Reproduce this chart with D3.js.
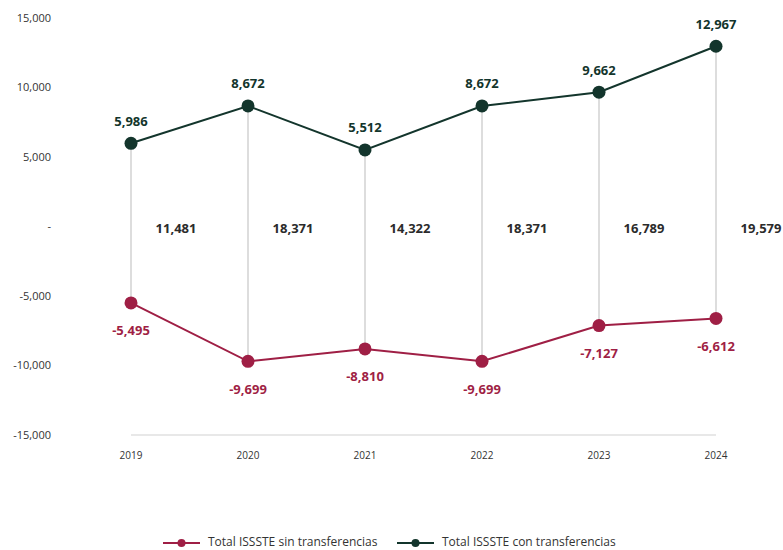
<!DOCTYPE html>
<html>
<head>
<meta charset="utf-8">
<script src="https://cdn.jsdelivr.net/npm/d3@7"></script>
<style>
  body { margin: 0; background: #fff; }
  text { font-family: "Open Sans", "Noto Sans", sans-serif; }
</style>
</head>
<body>
<div id="chart"></div>
<script>
var years = ["2019", "2020", "2021", "2022", "2023", "2024"];
var sinTransferencias = [-5495, -9699, -8810, -9699, -7127, -6612];
var conTransferencias = [5986, 8672, 5512, 8672, 9662, 12967];
var yTicks = [-15000, -10000, -5000, 0, 5000, 10000, 15000];
var seriesNames = ["Total ISSSTE sin transferencias", "Total ISSSTE con transferencias"];

var colorSin = "#9f1f45",
    colorCon = "#13352c";

var width = 783,
    height = 550;

var svg = d3.select("#chart")
    .append("svg")
    .attr("width", width)
    .attr("height", height);

var x = d3.scalePoint()
    .domain(years)
    .range([131, 716]);

var y = d3.scaleLinear()
    .domain([-15000, 15000])
    .range([435, 18]);

// plain hyphen for negatives, like the original
var fmt = function (d) { return d3.format(",")(d).replace("\u2212", "-"); };

// y axis labels (no line)
svg.append("g")
    .selectAll("text")
    .data(yTicks)
    .enter()
    .append("text")
    .attr("x", 51)
    .attr("y", function (d) { return y(d) + 1; })
    .attr("text-anchor", "end")
    .attr("dominant-baseline", "middle")
    .style("font-size", "11px")
    .style("fill", "#333")
    .text(function (d) { return d === 0 ? "-" : fmt(d); });

// baseline
svg.append("line")
    .attr("x1", x(years[0])).attr("x2", x(years[years.length - 1]))
    .attr("y1", y(-15000)).attr("y2", y(-15000))
    .style("stroke", "#e0e0e0")
    .style("stroke-width", 1.5);

// x labels
svg.append("g")
    .selectAll("text")
    .data(years)
    .enter()
    .append("text")
    .attr("x", function (d) { return x(d); })
    .attr("y", 456)
    .attr("text-anchor", "middle")
    .attr("dominant-baseline", "middle")
    .style("font-size", "10px")
    .style("fill", "#333")
    .text(function (d) { return d; });

// drop lines between the two series
svg.append("g")
    .selectAll("line")
    .data(years)
    .enter()
    .append("line")
    .attr("x1", function (d) { return x(d); })
    .attr("x2", function (d) { return x(d); })
    .attr("y1", function (d, i) { return y(conTransferencias[i]); })
    .attr("y2", function (d, i) { return y(sinTransferencias[i]); })
    .style("stroke", "#dddddd")
    .style("stroke-width", 2);

// difference labels
svg.append("g")
    .selectAll("text")
    .data(years)
    .enter()
    .append("text")
    .attr("x", function (d) { return x(d) + 45; })
    .attr("y", y(0) + 3)
    .attr("text-anchor", "middle")
    .attr("dominant-baseline", "middle")
    .style("font-size", "13px")
    .style("font-weight", "bold")
    .style("fill", "#2b2b2b")
    .text(function (d, i) { return fmt(conTransferencias[i] - sinTransferencias[i]); });

function drawSeries(values, color, labelDy) {
    var line = d3.line()
        .x(function (d, i) { return x(years[i]); })
        .y(function (d) { return y(d); });

    svg.append("path")
        .datum(values)
        .attr("d", line)
        .style("fill", "none")
        .style("stroke", color)
        .style("stroke-width", 2);

    svg.append("g")
        .selectAll("circle")
        .data(values)
        .enter()
        .append("circle")
        .attr("cx", function (d, i) { return x(years[i]); })
        .attr("cy", function (d) { return y(d); })
        .attr("r", 6.5)
        .style("fill", color);

    svg.append("g")
        .selectAll("text")
        .data(values)
        .enter()
        .append("text")
        .attr("x", function (d, i) { return x(years[i]); })
        .attr("y", function (d) { return y(d) + labelDy; })
        .attr("text-anchor", "middle")
        .attr("dominant-baseline", "middle")
        .style("font-size", "13px")
        .style("font-weight", "bold")
        .style("fill", color)
        .text(function (d) { return fmt(d); });
}

drawSeries(sinTransferencias, colorSin, 29);
drawSeries(conTransferencias, colorCon, -21);

// Handmade legend
var legend = svg.append("g");
var legendItems = [
    { name: seriesNames[0], color: colorSin, x: 163 },
    { name: seriesNames[1], color: colorCon, x: 397 }
];
legendItems.forEach(function (it) {
    legend.append("line")
        .attr("x1", it.x).attr("x2", it.x + 37)
        .attr("y1", 543).attr("y2", 543)
        .style("stroke", it.color).style("stroke-width", 2);
    legend.append("circle")
        .attr("cx", it.x + 18.5).attr("cy", 543).attr("r", 4)
        .style("fill", it.color);
    legend.append("text")
        .attr("x", it.x + 45).attr("y", 543)
        .attr("dominant-baseline", "middle")
        .style("font-size", "12px")
        .style("fill", "#333")
        .text(it.name);
});
</script>
</body>
</html>
